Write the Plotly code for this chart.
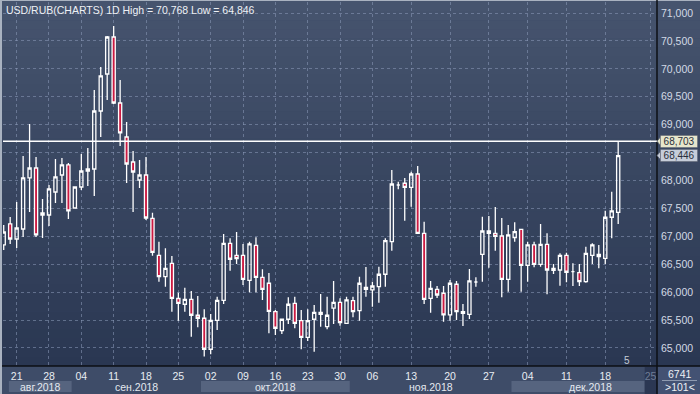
import plotly.graph_objects as go

# ---------------- data (USD/RUB daily candles) ----------------
opens = [66.845, 67.221, 66.952, 67.131, 68.045, 68.224, 67.418, 67.382, 67.794, 68.098,
         68.278, 67.507, 67.883, 68.170, 68.206, 69.245, 69.907, 70.570, 69.388, 68.779,
         68.331, 68.009, 68.098, 67.323, 66.660, 66.277, 66.517, 65.886, 65.783, 65.872,
         65.586, 65.532, 64.977, 65.496, 65.854, 66.875, 66.660, 66.660, 66.212, 66.839,
         66.266, 66.159, 65.650, 65.310, 65.514, 65.800, 65.489, 65.191, 65.514, 65.639,
         65.381, 65.712, 65.818, 65.442, 65.847, 65.668, 66.087, 66.039, 66.098, 66.320,
         66.904, 67.919, 67.950, 67.878, 68.116, 67.054, 65.890, 66.051, 65.980, 65.591,
         66.141, 65.650, 65.603, 66.182, 66.678, 67.095, 67.054, 67.006, 66.230, 66.975,
         67.126, 66.481, 66.845, 66.499, 66.857, 66.392, 66.397, 66.660, 66.366, 66.349,
         66.187, 66.660, 66.678, 66.606, 67.341, 67.430]
highs = [67.203, 67.346, 67.615, 68.439, 69.012, 68.421, 67.669, 67.919, 68.385, 68.403,
         68.313, 67.883, 68.475, 68.582, 69.621, 70.033, 70.588, 70.768, 69.800, 69.048,
         68.528, 68.367, 68.421, 67.423, 66.904, 66.786, 66.648, 65.990, 66.080, 66.021,
         65.931, 65.693, 65.609, 65.919, 67.042, 66.965, 67.077, 66.863, 66.904, 66.983,
         66.411, 66.343, 65.680, 65.514, 65.908, 65.919, 65.680, 65.693, 65.770, 65.967,
         65.919, 66.200, 65.890, 65.919, 65.919, 66.277, 66.451, 66.187, 66.456, 66.965,
         68.188, 67.978, 68.045, 68.158, 68.260, 67.262, 66.200, 66.110, 66.110, 66.218,
         66.200, 65.788, 66.415, 66.266, 67.352, 67.364, 67.525, 67.328, 67.203, 67.251,
         67.126, 66.904, 66.904, 67.221, 67.054, 66.504, 66.696, 66.707, 66.517, 66.504,
         66.814, 66.875, 66.845, 67.459, 67.799, 68.703]
lows = [66.755, 66.863, 66.791, 66.988, 67.436, 66.988, 66.970, 67.185, 67.597, 67.597,
        67.310, 67.507, 67.830, 67.901, 67.722, 68.779, 69.442, 69.370, 68.618, 67.955,
        67.436, 67.866, 67.292, 66.653, 66.187, 66.098, 65.650, 65.489, 65.650, 65.202,
        65.371, 64.846, 64.887, 65.322, 65.788, 66.384, 66.504, 66.128, 65.997, 65.997,
        65.860, 65.263, 65.233, 65.251, 65.430, 65.353, 64.977, 65.125, 64.934, 65.381,
        65.335, 65.430, 65.399, 65.430, 65.550, 65.489, 65.919, 65.740, 65.811, 66.098,
        66.743, 67.842, 67.280, 67.531, 67.054, 65.788, 65.632, 65.895, 65.471, 65.489,
        65.501, 65.394, 65.519, 66.098, 66.187, 66.438, 66.743, 65.908, 66.008, 66.904,
        66.008, 66.187, 66.445, 66.456, 65.962, 66.325, 66.116, 66.177, 66.110, 66.110,
        66.169, 66.504, 66.427, 66.504, 66.965, 67.221]
closes = [67.077, 66.952, 67.149, 68.045, 68.224, 67.024, 67.382, 67.848, 68.063, 68.278,
          67.454, 67.883, 68.170, 68.206, 69.245, 69.872, 70.570, 69.388, 68.851, 68.295,
          68.152, 68.098, 67.328, 66.714, 66.277, 66.427, 65.890, 65.800, 65.872, 65.586,
          65.532, 64.977, 65.496, 65.854, 66.875, 66.589, 66.599, 66.230, 66.863, 66.266,
          66.051, 65.654, 65.353, 65.514, 65.783, 65.442, 65.191, 65.489, 65.639, 65.603,
          65.586, 65.818, 65.453, 65.860, 65.650, 66.159, 66.051, 66.110, 66.320, 66.922,
          67.937, 67.919, 67.878, 68.116, 67.054, 65.872, 66.069, 65.949, 65.591, 66.159,
          65.650, 65.621, 66.200, 66.182, 67.095, 67.054, 67.000, 66.230, 67.024, 67.083,
          66.481, 66.845, 66.499, 66.857, 66.397, 66.427, 66.660, 66.356, 66.366, 66.187,
          66.696, 66.845, 66.635, 67.341, 67.454, 68.446]

tick_bars = [2, 7, 12, 17, 22, 27, 32, 37, 42, 47, 52, 57, 63, 69, 75, 81, 87, 93, 100]
tick_text = ["21", "28", "04", "11", "18", "25", "02", "09", "16", "23", "30",
             "06", "13", "20", "27", "04", "11", "18", "25"]
price_ticks = [65.0, 65.5, 66.0, 66.5, 67.0, 67.5, 68.0, 68.5, 69.0, 69.5, 70.0, 70.5, 71.0]
hidden_price_ticks = [68.5]  # covered by the price markers in the original
month_labels = ["авг.2018", "сен.2018", "окт.2018", "ноя.2018", "дек.2018"]
month_edges = [0.8, 10.5, 30.5, 53.5, 78.5, 102.8]

title_text = "USD/RUB(CHARTS) 1D High = 70,768 Low = 64,846"
last_high = 68.703
last_close = 68.446

bars = list(range(len(opens)))

# ---------------- figure ----------------
W, H = 700, 394
ML, MR, MT, MB = 3, 43, 2, 28
PW, PH = W - ML - MR, H - MT - MB

def px(X):
    return (X - ML) / PW

def py(Y):
    return (H - MB - Y) / PH

def fmt(v):
    return ("%.3f" % v).replace(".", ",")

FONT = "Liberation Sans, Arial"

fig = go.Figure()
fig.add_trace(go.Candlestick(
    x=bars, open=opens, high=highs, low=lows, close=closes,
    increasing=dict(line=dict(color="#ffffff", width=1.3), fillcolor="rgba(0,0,0,0)"),
    decreasing=dict(line=dict(color="#ffffff", width=1.3), fillcolor="#cc1a42"),
    whiskerwidth=0, showlegend=False, hoverinfo="skip",
))

shapes = []
# gradient background (plot + right axis area)
top_c = (70, 84, 110)
bot_c = (42, 55, 82)
N = 40
for i in range(N):
    t = (i + 0.5) / N
    c = tuple(int(round(top_c[j] + (bot_c[j] - top_c[j]) * t)) for j in range(3))
    shapes.append(dict(type="rect", xref="paper", yref="paper",
                       x0=px(0), x1=px(W), y0=1 - (i + 1) / N - 0.001, y1=py(0) if i == 0 else 1 - i / N,
                       fillcolor="rgb(%d,%d,%d)" % c, line=dict(width=0), layer="below"))
# bottom strip
shapes.append(dict(type="rect", xref="paper", yref="paper", x0=px(0), x1=px(W),
                   y0=py(H), y1=0, fillcolor="#3e4c68", line=dict(width=0), layer="below"))
# month bands (alternate)
for i in range(len(month_labels)):
    if i % 2 == 0:
        shapes.append(dict(type="rect", xref="x", yref="paper",
                           x0=month_edges[i], x1=min(month_edges[i + 1], 99.1),
                           y0=py(392), y1=py(381), fillcolor="#56647f",
                           line=dict(width=0), layer="below"))
# future block in strip
shapes.append(dict(type="rect", xref="x", yref="paper", x0=99.1, x1=101.0,
                   y0=py(394), y1=py(367), fillcolor="#2b3753", line=dict(width=0), layer="below"))
# right-bottom info box
shapes.append(dict(type="rect", xref="paper", yref="paper", x0=px(658), x1=px(700),
                   y0=py(394), y1=py(367), fillcolor="#435273", line=dict(width=0), layer="below"))
shapes.append(dict(type="line", xref="paper", yref="paper", x0=px(662), x1=px(697),
                   y0=py(380.5), y1=py(380.5), line=dict(color="#8e9ab0", width=1)))
# frame (left and top light border)
shapes.append(dict(type="rect", xref="paper", yref="paper", x0=px(0), x1=px(2),
                   y0=py(H), y1=py(0), fillcolor="#a9b2c0", line=dict(width=0)))
shapes.append(dict(type="rect", xref="paper", yref="paper", x0=px(0), x1=px(W),
                   y0=py(1), y1=py(0), fillcolor="#a9b2c0", line=dict(width=0)))
# axis separators
shapes.append(dict(type="line", xref="paper", yref="paper", x0=1, x1=1, y0=py(H), y1=py(0),
                   line=dict(color="#0d0f14", width=1.5)))
shapes.append(dict(type="line", xref="paper", yref="paper", x0=px(2), x1=px(W), y0=0, y1=0,
                   line=dict(color="#0d0f14", width=1.5)))
# current high line
shapes.append(dict(type="line", xref="paper", yref="y", x0=0, x1=1, y0=last_high, y1=last_high,
                   line=dict(color="#ffffff", width=1.3)))
# price marker notches
for val, col in ((last_high, "#e6e6cc"), (last_close, "#c6cdd9")):
    shapes.append(dict(type="path", xref="paper", yref="y",
                       path="M %f,%f L %f,%f L %f,%f Z" % (px(657), val, px(661), val + 0.09, px(661), val - 0.09),
                       fillcolor=col, line=dict(color="#50586a", width=0.8)))

annotations = []
annotations.append(dict(text=title_text, xref="paper", yref="paper", x=px(4), y=py(10),
                        xanchor="left", yanchor="middle", showarrow=False,
                        font=dict(family=FONT, size=10.5, color="#eef1f5")))
for i, lab in enumerate(month_labels):
    annotations.append(dict(text=lab, xref="x", yref="paper",
                            x=(month_edges[i] + month_edges[i + 1]) / 2, y=py(386.5),
                            xanchor="center", yanchor="middle", showarrow=False,
                            font=dict(family=FONT, size=10.5, color="#e4e9f0")))
for val, col in ((last_high, "#e6e6cc"), (last_close, "#c6cdd9")):
    annotations.append(dict(text=fmt(val), xref="paper", yref="y",
                            x=px(660), y=val, xanchor="left", yanchor="middle", showarrow=False,
                            bgcolor=col, bordercolor="#50586a", borderwidth=0.6, borderpad=0,
                            height=11.5, width=37,
                            font=dict(family=FONT, size=10, color="#2a2f3a")))
annotations.append(dict(text="5", xref="x", yref="paper", x=96.3, y=py(360), showarrow=False,
                        xanchor="center", yanchor="middle",
                        font=dict(family=FONT, size=10, color="#c5ccd8")))
annotations.append(dict(text="6741", xref="paper", yref="paper", x=px(680), y=py(374),
                        showarrow=False, xanchor="center", yanchor="middle",
                        font=dict(family=FONT, size=10.5, color="#eef1f5")))
annotations.append(dict(text="&gt;101&lt;", xref="paper", yref="paper", x=px(680), y=py(387),
                        showarrow=False, xanchor="center", yanchor="middle",
                        font=dict(family=FONT, size=10.5, color="#eef1f5")))

ticktext = [t if i < len(tick_text) - 1 else "<span style='color:#6f7d96'>%s</span>" % t
            for i, t in enumerate(tick_text)]
price_ticktext = ["" if v in hidden_price_ticks else fmt(v) for v in price_ticks]

fig.update_layout(
    width=W, height=H,
    margin=dict(l=ML, r=MR, t=MT, b=MB, pad=0),
    paper_bgcolor="#3a4864", plot_bgcolor="rgba(0,0,0,0)",
    separators=",.",
    shapes=shapes, annotations=annotations,
    font=dict(family=FONT, size=10.5, color="#e4e9f0"),
    xaxis=dict(range=[-0.11, 101.0], tickmode="array", tickvals=tick_bars, ticktext=ticktext,
               showgrid=True, gridcolor="rgba(140,155,185,0.55)", gridwidth=1, griddash="3px,3px",
               zeroline=False, showline=False, ticks="", ticklabelstandoff=2,
               rangeslider=dict(visible=False), fixedrange=True,
               tickfont=dict(size=10.5, color="#e8ecf2")),
    yaxis=dict(side="right", range=[64.677, 71.197], tickmode="array",
               tickvals=price_ticks, ticktext=price_ticktext,
               showgrid=True, gridcolor="rgba(140,155,185,0.55)", gridwidth=1, griddash="3px,3px",
               zeroline=False, showline=False, ticks="", ticklabelstandoff=3,
               tickfont=dict(size=10.5, color="#d3dae5")),
)

fig.write_html("out.html", config={"displayModeBar": False},
               post_script="document.body.style.margin='0';document.body.style.overflow='hidden';")
